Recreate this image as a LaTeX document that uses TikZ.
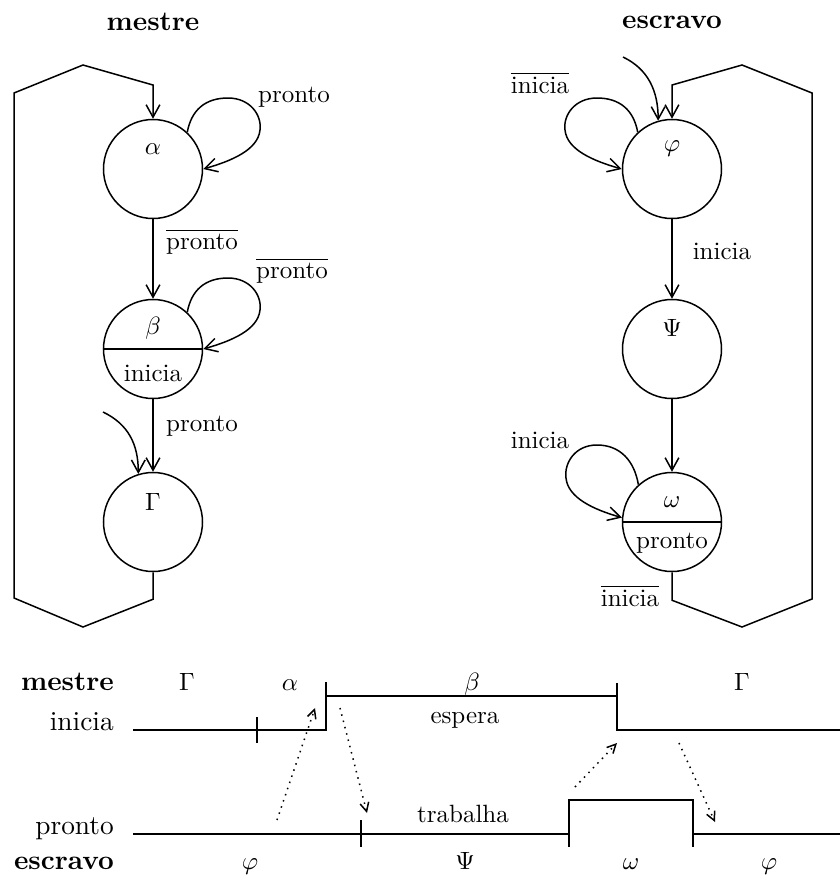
\documentclass[tikz,border=0pt]{standalone}
\usepackage{xcolor}
\usepackage{tikz}
\usetikzlibrary{calc}
\usetikzlibrary{positioning}
\usetikzlibrary{arrows.meta}

\begin{document}
\begin{tikzpicture}[x=0.4pt,y=-0.4pt,line width=0.6pt,>={Straight Barb[length=5pt,width=5.5pt]}]
  \tikzset{every node/.style={font=\normalsize,text centered,inner sep=1pt}};
  \tikzset{state/.style={shape=circle,draw,minimum size=39.6pt,inner sep=0pt}};
  \tikzset{big/.style={font=\fontsize{10.95}{13}\selectfont}};
  \tikzset{sig/.style={dotted,-{Straight Barb[length=3.5pt,width=3.5pt]}}};
  \useasboundingbox (0,0) rectangle (840,875);
  % mestre
  \node [big] (mtitle) at (153,22) {\textbf{mestre}};
  \node [state] (alpha) at (153,169) {};
  \node [state] (beta) at (153,349) {};
  \node [state] (gamma) at (153,522) {};
  \node (alphat) at ($(alpha)+(0,-20)$) {$\alpha$};
  \node (betat) at ($(beta)+(0,-21)$) {$\beta$};
  \node (betab) at ($(beta)+(0,24)$) {inicia};
  \node (gammat) at ($(gamma)+(0,-20)$) {$\Gamma$};
  \path[draw] (beta.west) -- (beta.east);
  \path[draw,->] (alpha) edge node[right=4pt,pos=0.28] {$\overline{\mbox{pronto}}$} (beta);
  \path[draw,->] (beta) edge node[right=4pt,pos=0.37] {pronto} (gamma);
  \path[draw,->] (alpha.47) .. controls +(4,-22) and +(-23,0) .. ($(alpha)+(75,-71)$)
    .. controls +(22,0) and +(2,-15) .. ($(alpha)+(107,-39)$)
    .. controls +(-2,20) and +(28,-8) .. (alpha.east);
  \path[draw,->] (beta.47) .. controls +(4,-22) and +(-23,0) .. ($(beta)+(75,-71)$)
    .. controls +(22,0) and +(2,-15) .. ($(beta)+(107,-39)$)
    .. controls +(-2,20) and +(28,-8) .. (beta.east);
  \node (lpa) at (294,97) {pronto};
  \node (lpb) at (292,271) {$\overline{\mbox{pronto}}$};
  \coordinate (gin) at (103,412);
  \path[draw,->] (gin) .. controls +(25,12) and +(0,-30) .. (gamma.107);
  \path[draw,->] (gamma.south) -- ++(0,27) -- (83,627) -- (14,598) -- (14,93) -- (83,65) -- (153,85) -- (alpha.north);
  % escravo
  \node [big] (etitle) at (672,22) {\textbf{escravo}};
  \node [state] (phi) at (672,169) {};
  \node [state] (psi) at (672,349) {};
  \node [state] (omega) at (672,522) {};
  \node (phit) at ($(phi)+(0,-20)$) {$\varphi$};
  \node (psit) at ($(psi)+(0,-21)$) {$\Psi$};
  \node (omegat) at ($(omega)+(0,-20)$) {$\omega$};
  \node (omegab) at ($(omega)+(0,21)$) {pronto};
  \path[draw] (omega.west) -- (omega.east);
  \path[draw,->] (phi) edge node[right=7pt,pos=0.41] {inicia} (psi);
  \path[draw,->] (psi) edge (omega);
  \path[draw,->] (phi.133) .. controls +(-4,-22) and +(23,0) .. ($(phi)+(-75,-71)$)
    .. controls +(-22,0) and +(-2,-15) .. ($(phi)+(-107,-39)$)
    .. controls +(2,20) and +(-28,-8) .. (phi.west);
  \path[draw,->] (omega.132) .. controls +(-4,-24) and +(23,0) .. ($(omega)+(-75,-77)$)
    .. controls +(-22,0) and +(-2,-15) .. ($(omega)+(-106,-44)$)
    .. controls +(2,20) and +(-28,-8) .. (omega.175);
  \node (lip) at (540,83) {$\overline{\mbox{inicia}}$};
  \node (lio) at (540,440) {inicia};
  \node (lib) at (630,596) {$\overline{\mbox{inicia}}$};
  \coordinate (phin) at (623,57);
  \path[draw,->] (phin) .. controls +(25,12) and +(0,-30) .. (phi.106);
  \path[draw,->] (omega.south) -- ++(0,28) -- (742,627) -- (812,599) -- (812,93) -- (742,65) -- (672,85) -- (phi.north);
  % tempo
  \node [big,anchor=base east] (tmestre) at (117,690) {\textbf{mestre}};
  \node [big,anchor=base east] (tinicia) at (117,730) {inicia};
  \node [big,anchor=base east] (tpronto) at (117,834) {pronto};
  \node [big,anchor=base east] (tescravo) at (117,869) {\textbf{escravo}};
  \path[draw] (133,730) -- (326,730) -- (326,696) -- (617,696) -- (617,730) -- (840,730);
  \path[draw] (133,834) -- (569,834) -- (569,800) -- (693,800) -- (693,834) -- (840,834);
  \path[draw] (326,682) -- (326,696);
  \path[draw] (617,683) -- (617,696);
  \path[draw] (257,717) -- (257,743);
  \path[draw] (361,820) -- (361,847);
  \path[draw] (569,834) -- (569,847);
  \path[draw] (693,834) -- (693,847);
  \node [anchor=base] (m1) at (187,690) {$\Gamma$};
  \node [anchor=base] (m2) at (290,690) {$\alpha$};
  \node [anchor=base] (m3) at (472,690) {$\beta$};
  \node [anchor=base] (m4) at (742,690) {$\Gamma$};
  \node [anchor=base] (esp) at (465,723) {espera};
  \node [anchor=base] (trab) at (463,822) {trabalha};
  \node [anchor=base] (e1) at (250,869) {$\varphi$};
  \node [anchor=base] (e2) at (465,869) {$\Psi$};
  \node [anchor=base] (e3) at (631,869) {$\omega$};
  \node [anchor=base] (e4) at (769,869) {$\varphi$};
  \coordinate (s1a) at (277,820); \coordinate (s1b) at (315,708);
  \coordinate (s2a) at (340,708); \coordinate (s2b) at (367,813);
  \coordinate (s3a) at (575,787); \coordinate (s3b) at (617,743);
  \coordinate (s4a) at (679,743); \coordinate (s4b) at (715,822);
  \path[draw,sig] (s1a) -- (s1b);
  \path[draw,sig] (s2a) -- (s2b);
  \path[draw,sig] (s3a) -- (s3b);
  \path[draw,sig] (s4a) -- (s4b);
\end{tikzpicture}
\end{document}
